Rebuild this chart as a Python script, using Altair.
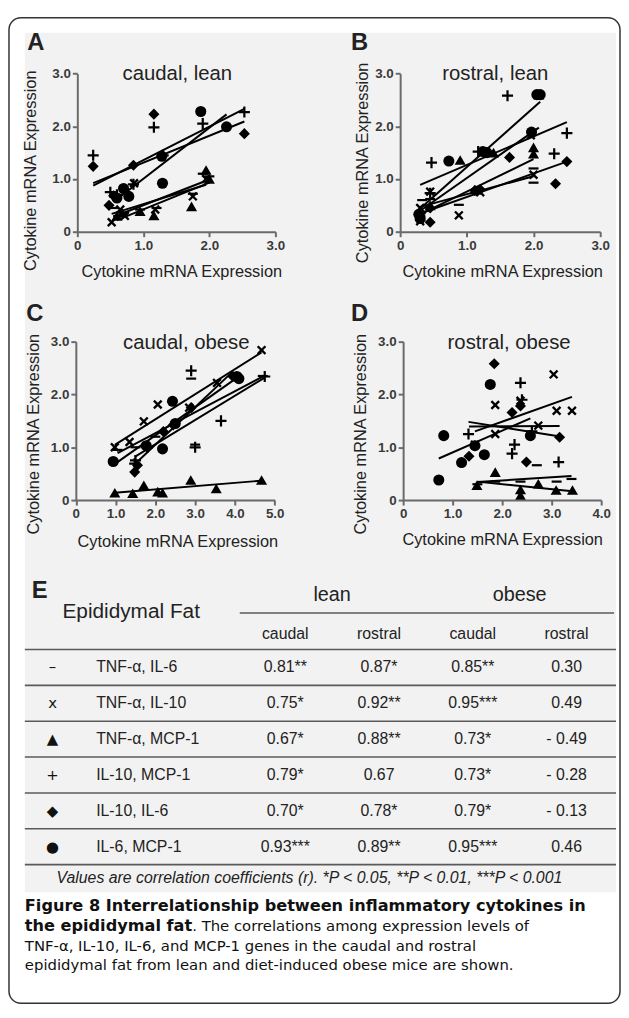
import altair as alt
import pandas as pd

W, H = 619, 1002

PAIRS = ["TNF-α, IL-6", "TNF-α, IL-10", "TNF-α, MCP-1", "IL-10, MCP-1", "IL-10, IL-6", "IL-6, MCP-1"]
MINUS = "M-0.9,-0.2H0.9V0.2H-0.9Z"
XMARK = "M-0.85,-0.55L-0.55,-0.85L0,-0.3L0.55,-0.85L0.85,-0.55L0.3,0L0.85,0.55L0.55,0.85L0,0.3L-0.55,0.85L-0.85,0.55L-0.3,0Z"
PLUS = "M-1,-0.2H-0.2V-1H0.2V-0.2H1V0.2H0.2V1H-0.2V0.2H-1Z"
SHAPES = [MINUS, XMARK, "triangle-up", PLUS, "diamond", "circle"]

# ---- Panel A: caudal, lean
A_DATA = {
    "TNF-α, IL-6": ([0.55, 0.62, 0.70, 0.95, 1.20, 1.75, 1.90, 2.00], [0.45, 0.30, 0.35, 0.42, 0.45, 0.72, 1.10, 1.05]),
    "TNF-α, IL-10": ([0.52, 0.65, 0.72, 0.86, 1.18, 1.75, 1.95], [0.18, 0.42, 0.30, 0.92, 0.42, 0.67, 1.00]),
    "TNF-α, MCP-1": ([0.60, 0.68, 0.95, 1.16, 1.73, 1.95, 2.00], [0.30, 0.36, 0.39, 0.31, 0.48, 1.17, 1.00]),
    "IL-10, MCP-1": ([0.24, 0.50, 0.60, 0.85, 1.16, 1.30, 1.90, 2.53], [1.45, 0.75, 0.70, 0.90, 1.98, 1.45, 2.05, 2.27]),
    "IL-10, IL-6": ([0.24, 0.48, 0.55, 0.85, 1.16, 1.28, 2.53], [1.24, 0.50, 0.68, 1.26, 2.23, 1.45, 1.86]),
    "IL-6, MCP-1": ([0.60, 0.70, 0.78, 1.28, 1.29, 1.87, 2.26], [0.64, 0.82, 0.67, 1.43, 0.92, 2.28, 1.99]),
}
# ---- Panel B: rostral, lean
B_DATA = {
    "TNF-α, IL-6": ([0.30, 0.33, 0.45, 0.88, 1.15, 2.00, 2.00], [0.35, 0.60, 0.62, 0.51, 0.80, 0.93, 1.20]),
    "TNF-α, IL-10": ([0.30, 0.30, 0.45, 0.88, 1.20, 1.96, 2.00], [0.20, 0.45, 0.76, 0.31, 0.75, 1.83, 1.08]),
    "TNF-α, MCP-1": ([0.30, 0.45, 0.90, 1.12, 1.40, 2.00, 2.00, 2.08], [0.30, 0.50, 1.36, 0.80, 1.50, 1.48, 1.60, 2.60]),
    "IL-10, MCP-1": ([0.30, 0.45, 0.47, 1.17, 1.61, 2.31, 2.50], [0.35, 0.73, 1.31, 1.52, 2.58, 1.48, 1.87]),
    "IL-10, IL-6": ([0.30, 0.45, 0.45, 1.12, 1.20, 1.64, 2.33, 2.50], [0.30, 0.18, 0.45, 0.78, 0.80, 1.41, 0.91, 1.33]),
    "IL-6, MCP-1": ([0.28, 0.30, 0.73, 1.24, 1.30, 1.97, 2.05, 2.10], [0.33, 0.25, 1.34, 1.52, 1.50, 1.89, 2.60, 2.60]),
}
# ---- Panel C: caudal, obese
C_DATA = {
    "TNF-α, IL-6": ([1.05, 1.50, 2.00, 2.90, 3.00, 4.70], [0.95, 1.00, 1.20, 2.30, 1.05, 2.35]),
    "TNF-α, IL-10": ([0.98, 1.35, 1.71, 2.06, 2.85, 3.55, 4.67], [1.00, 1.10, 1.49, 1.81, 1.75, 2.22, 2.84]),
    "TNF-α, MCP-1": ([0.98, 1.43, 1.71, 2.06, 2.18, 2.89, 3.53, 4.67], [0.14, 0.13, 0.28, 0.16, 0.14, 0.38, 0.22, 0.38]),
    "IL-10, MCP-1": ([1.48, 1.50, 1.80, 2.90, 3.00, 3.65, 4.75], [0.69, 0.75, 1.00, 2.45, 1.00, 1.50, 2.34]),
    "IL-10, IL-6": ([1.48, 1.55, 1.80, 2.20, 2.45, 2.90, 3.95], [0.53, 0.66, 1.00, 1.30, 1.42, 1.75, 2.34]),
    "IL-6, MCP-1": ([0.94, 1.77, 2.18, 2.43, 2.50, 4.05, 4.10], [0.73, 1.03, 0.97, 1.87, 1.45, 2.34, 2.30]),
}
# ---- Panel D: rostral, obese
D_DATA = {
    "TNF-α, IL-6": ([1.50, 1.86, 2.37, 2.70, 3.10, 3.40], [0.30, 0.35, 0.35, 0.66, 0.35, 0.40]),
    "TNF-α, IL-10": ([1.45, 1.86, 1.86, 2.37, 2.73, 3.04, 3.10, 3.41], [1.05, 1.80, 1.25, 1.88, 1.41, 2.38, 1.69, 1.69]),
    "TNF-α, MCP-1": ([1.49, 1.86, 2.37, 2.37, 2.73, 3.09, 3.42], [0.28, 0.53, 0.09, 0.20, 0.31, 0.19, 0.19]),
    "IL-10, MCP-1": ([1.32, 2.20, 2.25, 2.37, 2.40, 2.60, 3.14], [1.25, 0.88, 1.05, 2.22, 1.90, 1.30, 0.72]),
    "IL-10, IL-6": ([1.33, 1.45, 1.84, 2.20, 2.37, 2.49, 3.16], [0.83, 1.03, 2.58, 1.66, 1.78, 0.72, 1.19]),
    "IL-6, MCP-1": ([0.72, 0.82, 1.18, 1.45, 1.64, 1.76, 2.57], [0.38, 1.22, 0.71, 1.03, 0.86, 2.19, 1.22]),
}

# ---- Table E
TABLE_SYMBOLS = ["–", "x", "▲", "+", "◆", "●"]
CAUDAL_LEAN = ["0.81**", "0.75*", "0.67*", "0.79*", "0.70*", "0.93***"]
ROSTRAL_LEAN = ["0.87*", "0.92**", "0.88**", "0.67", "0.78*", "0.89**"]
CAUDAL_OBESE = ["0.85**", "0.95***", "0.73*", "0.73*", "0.79*", "0.95***"]
ROSTRAL_OBESE = ["0.30", "0.49", "- 0.49", "- 0.28", "- 0.13", "0.46"]
GROUPS = ["lean", "obese"]
SUBHEADS = ["caudal", "rostral", "caudal", "rostral"]
FOOTNOTE = "Values are correlation coefficients (r). *P < 0.05, **P < 0.01, ***P < 0.001"
CAPTION_BOLD_1 = "Figure 8 Interrelationship between inflammatory cytokines in"
CAPTION_BOLD_2 = "the epididymal fat"
CAPTION_REST_2 = ". The correlations among expression levels of"
CAPTION_3 = "TNF-α, IL-10, IL-6, and MCP-1 genes in the caudal and rostral"
CAPTION_4 = "epididymal fat from lean and diet-induced obese mice are shown."

FONT = "Liberation Sans"
CAP = "DejaVu Sans"
ONE = pd.DataFrame({"k": [0]})


def axis_common():
    return dict(grid=False, zindex=2, domainColor="#6a6a6a", domainWidth=2, tickColor="#6a6a6a",
                tickWidth=2, tickSize=5, labelFont=FONT, labelFontSize=13.5, labelFontWeight="bold",
                labelColor="#3a3a3a", labelPadding=2, labelFlush=False, labelOverlap=False,
                labelExpr="datum.value == 0 ? '0' : format(datum.value, '.1f')",
                title="Cytokine mRNA Expression", titleFont=FONT, titleFontSize=16.5,
                titleFontWeight="normal", titleColor="#222222", titleAlign="center",
                titleBaseline="middle")


def panel(data, xmax, xr, yr, xoff, yoff, xt, yt):
    xs, ys, ps = [], [], []
    for p in PAIRS:
        a, b = data[p]
        xs += a
        ys += b
        ps += [p] * len(a)
    df = pd.DataFrame({"x": xs, "y": ys, "pair": ps})
    base = alt.Chart(df).encode(
        x=alt.X("x:Q", scale=alt.Scale(domain=[0, xmax], range=xr, nice=False, zero=False),
                axis=alt.Axis(orient="bottom", offset=xoff, values=list(range(0, xmax + 1)),
                              titleX=xt[0], titleY=xt[1], titleAngle=0, **axis_common())),
        y=alt.Y("y:Q", scale=alt.Scale(domain=[0, 3], range=yr, nice=False, zero=False),
                axis=alt.Axis(orient="left", offset=yoff, values=[0, 1, 2, 3],
                              titleX=yt[0], titleY=yt[1], titleAngle=270, **axis_common())),
    )
    pts = base.mark_point(filled=True, opacity=1, color="black", size=125, strokeWidth=0).encode(
        shape=alt.Shape("pair:N", scale=alt.Scale(domain=PAIRS, range=SHAPES), legend=None))
    lines = base.transform_regression("x", "y", groupby=["pair"]).mark_line(
        color="black", strokeWidth=2).encode(detail="pair:N")
    return alt.layer(pts, lines)


def label(text, x, y, size, weight="normal", align="center", font=FONT, style="normal", color="#222222"):
    return alt.Chart(pd.DataFrame({"t": [text]})).mark_text(
        font=font, fontSize=size, fontWeight=weight, fontStyle=style, align=align,
        baseline="middle", color=color).encode(x=alt.value(x), y=alt.value(y), text="t:N")


bg = alt.Chart(ONE).mark_rect(color="#f2f2f2").encode(
    x=alt.value(17), x2=alt.value(614), y=alt.value(20), y2=alt.value(888))
frame = alt.Chart(ONE).mark_rect(fillOpacity=0, stroke="#333333", strokeWidth=1.5, cornerRadius=12).encode(
    x=alt.value(1), x2=alt.value(618), y=alt.value(5), y2=alt.value(1000))

pA = panel(A_DATA, 3, [70, 270], [221, 61.3], 221 - H, -70, (175, 40), (-47, 159))
pB = panel(B_DATA, 3, [396, 598], [221, 61.3], 221 - H, -396, (499, 40), (-38, 151))
pC = panel(C_DATA, 5, [68.5, 269.3], [492, 332], 492 - H, -68.5, (171, 42), (-43, 425))
pD = panel(D_DATA, 4, [399, 599], [492, 332], 492 - H, -399, (499, 40), (-43, 425))

panel_text = alt.layer(
    label("A", 28, 31, 24, "bold"),
    label("B", 355, 31, 24, "bold"),
    label("C", 27, 304, 24, "bold"),
    label("D", 355, 304, 24, "bold"),
    label("caudal, lean", 171, 62, 20.5),
    label("rostral, lean", 492, 62, 20.5),
    label("caudal, obese", 180, 333, 20.5),
    label("rostral, obese", 506, 333, 20.5),
)

# ---- table layers
XS = alt.Scale(domain=[0, 3], range=[280, 564], nice=False, zero=False)
YS = alt.Scale(domain=[0, 5], range=[661, 842], nice=False, zero=False)
cols = [CAUDAL_LEAN, ROSTRAL_LEAN, CAUDAL_OBESE, ROSTRAL_OBESE]
vals = pd.DataFrame([{"r": r, "c": c, "t": cols[c][r]} for c in range(4) for r in range(6)])
rowlab = pd.DataFrame({"r": list(range(6)), "t": PAIRS, "s": TABLE_SYMBOLS})
bounds = pd.DataFrame({"r": [i - 0.5 for i in range(7)]})
subh = pd.DataFrame({"c": list(range(4)), "t": SUBHEADS})
grp = pd.DataFrame({"c": [0.5, 2.5], "t": GROUPS})

t_vals = alt.Chart(vals).mark_text(font=FONT, fontSize=16, color="#222222", baseline="middle").encode(
    x=alt.X("c:Q", scale=XS, axis=None), y=alt.Y("r:Q", scale=YS, axis=None), text="t:N")
t_labs = alt.Chart(rowlab).mark_text(font=FONT, fontSize=16, color="#222222", align="left", baseline="middle").encode(
    x=alt.value(89), y=alt.Y("r:Q", scale=YS, axis=None), text="t:N")
t_syms = alt.Chart(rowlab).mark_text(font="DejaVu Sans", fontSize=15, color="#111111", baseline="middle").encode(
    x=alt.value(45), y=alt.Y("r:Q", scale=YS, axis=None), text="s:N")
t_rules = alt.Chart(bounds).mark_rule(color="#5a5a5a", strokeWidth=1.6).encode(
    x=alt.value(17), x2=alt.value(614), y=alt.Y("r:Q", scale=YS, axis=None))
t_sub = alt.Chart(subh).mark_text(font=FONT, fontSize=16, color="#222222", baseline="middle").encode(
    x=alt.X("c:Q", scale=XS, axis=None), y=alt.value(627), text="t:N")
t_grp = alt.Chart(grp).mark_text(font=FONT, fontSize=20, color="#222222", baseline="middle").encode(
    x=alt.X("c:Q", scale=XS, axis=None), y=alt.value(588), text="t:N")
t_hrule = alt.Chart(ONE).mark_rule(color="#5a5a5a", strokeWidth=1.6).encode(
    x=alt.value(234), x2=alt.value(612), y=alt.value(606))
table = alt.layer(t_rules, t_hrule, t_vals, t_labs, t_syms, t_sub, t_grp,
                  label("E", 32, 584, 24, "bold"),
                  label("Epididymal Fat", 55, 605, 21, align="left"),
                  label(FOOTNOTE, 49, 874, 16, align="left", style="italic"))

caption = alt.layer(
    label(CAPTION_BOLD_1, 17, 902, 16.3, "bold", "left", CAP, color="#111111"),
    label(CAPTION_BOLD_2, 17, 922, 16.3, "bold", "left", CAP, color="#111111"),
    label(CAPTION_REST_2, 186, 922, 15, "normal", "left", CAP, color="#111111"),
    label(CAPTION_3, 17, 942, 15, "normal", "left", CAP, color="#111111"),
    label(CAPTION_4, 17, 962, 15, "normal", "left", CAP, color="#111111"),
)

chart = alt.layer(bg, pA, pB, pC, pD, panel_text, table, caption, frame).resolve_scale(
    x="independent", y="independent"
).properties(
    width=W, height=H, autosize=alt.AutoSizeParams(type="none"), padding=0, background="white"
).configure_view(strokeWidth=0)

chart.save("out.html", embed_options={"renderer": "svg", "actions": False})
